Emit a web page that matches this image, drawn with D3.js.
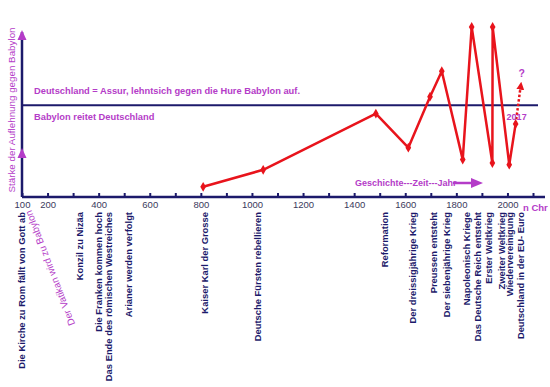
<!DOCTYPE html>
<html>
<head>
<meta charset="utf-8">
<script src="https://cdn.jsdelivr.net/npm/d3@7"></script>
<style>
  body { margin: 0; background: #fff; }
  svg { display: block; font-family: "Liberation Sans", Arial, sans-serif; }
</style>
</head>
<body>
<svg id="chart" width="550" height="387"></svg>
<script>
// years and "strength" of the red line
var pointYears = [809, 1044, 1485, 1612, 1697, 1743, 1825, 1860, 1941, 1942, 2007, 2032];
var pointValues = [6, 16, 49, 29, 59, 74, 22, 100, 20, 100, 19, 43];
var forecastYear = 2052, forecastValue = 69;
var thresholdValue = 54;

var tickYears = d3.range(100, 2101, 100);
var tickLabels = [100, 200, 400, 600, 800, 1000, 1200, 1400, 1600, 1800, 2000];

var eventYears = [100, 325, 401, 440, 519, 816, 1024, 1521, 1629, 1712, 1763, 1840, 1885, 1928, 1979, 2010, 2053];
var eventNames = [
  'Die Kirche zu Rom fällt von Gott ab',
  'Konzil zu Nizäa',
  'Die Franken kommen hoch',
  'Das Ende des römischen Westreiches',
  'Arianer werden verfolgt',
  'Kaiser Karl der Grosse',
  'Deutsche Fürsten rebellieren',
  'Reformation',
  'Der dreissigjährige Krieg',
  'Preussen entsteht',
  'Der siebenjährige Krieg',
  'Napoleonisch Kriege',
  'Das Deutsche Reich entsteht',
  'Erster Weltkrieg',
  'Zweiter Weltkrieg',
  'Wiedervereinigung',
  'Deutschland in der EU- Euro'
];

var navy = '#1c1a6b', magenta = '#b43cc8', red = '#e8141c';

var svg = d3.select('#chart');
var x = d3.scaleLinear().domain([100, 2100]).range([22, 533]);
var y = d3.scaleLinear().domain([0, 100]).range([197, 27]);

// arrow head
var defs = svg.append('defs');
defs.append('marker').attr('id', 'head').attr('viewBox', '0 0 10 10')
  .attr('refX', 5).attr('refY', 5).attr('markerWidth', 3.2).attr('markerHeight', 3.2)
  .attr('orient', 'auto')
  .append('path').attr('d', 'M0,0L10,5L0,10Z').attr('fill', red);

// x axis
var xAxis = d3.axisBottom(x).tickValues(tickYears).tickSize(-4).tickPadding(4)
  .tickFormat(function(d) { return tickLabels.indexOf(d) >= 0 ? d : ''; });
var gx = svg.append('g').attr('transform', 'translate(0,' + y(0) + ')').call(xAxis);
gx.select('.domain').remove();
gx.selectAll('.tick line').attr('stroke', navy).attr('stroke-width', 2);
gx.selectAll('.tick text').attr('fill', '#3a3a5c').attr('font-size', 9.5).attr('font-family', null);
svg.append('line').attr('x1', x(100)).attr('x2', 545).attr('y1', y(0)).attr('y2', y(0))
  .attr('stroke', navy).attr('stroke-width', 2.5);
svg.append('text').attr('x', 523).attr('y', y(0) + 14).attr('fill', magenta)
  .attr('font-size', 9.5).attr('font-weight', 'bold').text('n Chr');

// y axis with two arrows
svg.append('line').attr('x1', x(100)).attr('x2', x(100)).attr('y1', 32).attr('y2', y(0))
  .attr('stroke', navy).attr('stroke-width', 2.5);
[30, 148].forEach(function(top) {
  svg.append('path')
    .attr('d', 'M' + x(100) + ',' + top + 'L' + (x(100) + 4.5) + ',' + (top + 10) + 'L' + (x(100) - 4.5) + ',' + (top + 10) + 'Z')
    .attr('fill', magenta);
});
svg.append('text').attr('transform', 'translate(12,110) rotate(-90)')
  .attr('text-anchor', 'middle').attr('dy', '0.35em').attr('fill', magenta).attr('font-size', 9.8)
  .text('Stärke der Auflehnung gegen Babylon');

// threshold line
svg.append('line').attr('x1', x(100)).attr('x2', 538)
  .attr('y1', y(thresholdValue)).attr('y2', y(thresholdValue))
  .attr('stroke', navy).attr('stroke-width', 2);
svg.append('text').attr('x', 34).attr('y', y(thresholdValue) - 11).attr('fill', magenta)
  .attr('font-size', 9.3).attr('font-weight', 'bold')
  .text('Deutschland = Assur, lehntsich gegen die Hure Babylon auf.');
svg.append('text').attr('x', 34).attr('y', y(thresholdValue) + 15).attr('fill', magenta)
  .attr('font-size', 9.3).attr('font-weight', 'bold')
  .text('Babylon reitet Deutschland');

// time arrow
svg.append('text').attr('x', 355).attr('y', 186).attr('fill', magenta)
  .attr('font-size', 9).attr('font-weight', 'bold').text('Geschichte---Zeit---Jahr');
svg.append('line').attr('x1', 453).attr('x2', 472).attr('y1', 183).attr('y2', 183)
  .attr('stroke', magenta).attr('stroke-width', 2.5);
svg.append('path').attr('d', 'M471,178L483,183L471,188Z').attr('fill', magenta);

// red line
var pts = pointYears.map(function(d, i) { return [x(d), y(pointValues[i])]; });
svg.append('path').datum(pts).attr('d', d3.line())
  .attr('fill', 'none').attr('stroke', red).attr('stroke-width', 2.5).attr('stroke-linejoin', 'round');
svg.selectAll('.pt').data(pts).enter().append('path').attr('class', 'pt')
  .attr('transform', function(d) { return 'translate(' + d[0] + ',' + d[1] + ')'; })
  .attr('d', d3.symbol(d3.symbolDiamond, 28)).attr('fill', red);

var last = pts[pts.length - 1];
svg.append('line').attr('x1', last[0]).attr('y1', last[1])
  .attr('x2', x(forecastYear)).attr('y2', y(forecastValue) + 6)
  .attr('stroke', red).attr('stroke-width', 2.5).attr('stroke-dasharray', '2.5,2')
  .attr('marker-end', 'url(#head)');
svg.append('text').attr('x', x(forecastYear) + 1).attr('y', y(forecastValue) - 3)
  .attr('text-anchor', 'middle').attr('fill', magenta).attr('font-size', 10.5).attr('font-weight', 'bold').text('?');
svg.append('text').attr('x', last[0] + 1).attr('y', last[1] - 4)
  .attr('text-anchor', 'middle').attr('fill', magenta).attr('font-size', 9).attr('font-weight', 'bold').text('2017');

// event labels below the axis
svg.selectAll('.ev').data(eventYears).enter().append('text').attr('class', 'ev')
  .attr('transform', function(d) { return 'translate(' + x(d) + ',212) rotate(-90)'; })
  .attr('text-anchor', 'end').attr('dy', '0.35em')
  .attr('fill', navy).attr('font-size', 9.4).attr('font-weight', 'bold')
  .text(function(d, i) { return eventNames[i]; });

svg.append('text').attr('transform', 'translate(50,268) rotate(-111)')
  .attr('text-anchor', 'middle').attr('dy', '0.35em')
  .attr('fill', magenta).attr('font-size', 9.8)
  .text('Der Vatikan wird zu Babylon');
</script>
</body>
</html>
